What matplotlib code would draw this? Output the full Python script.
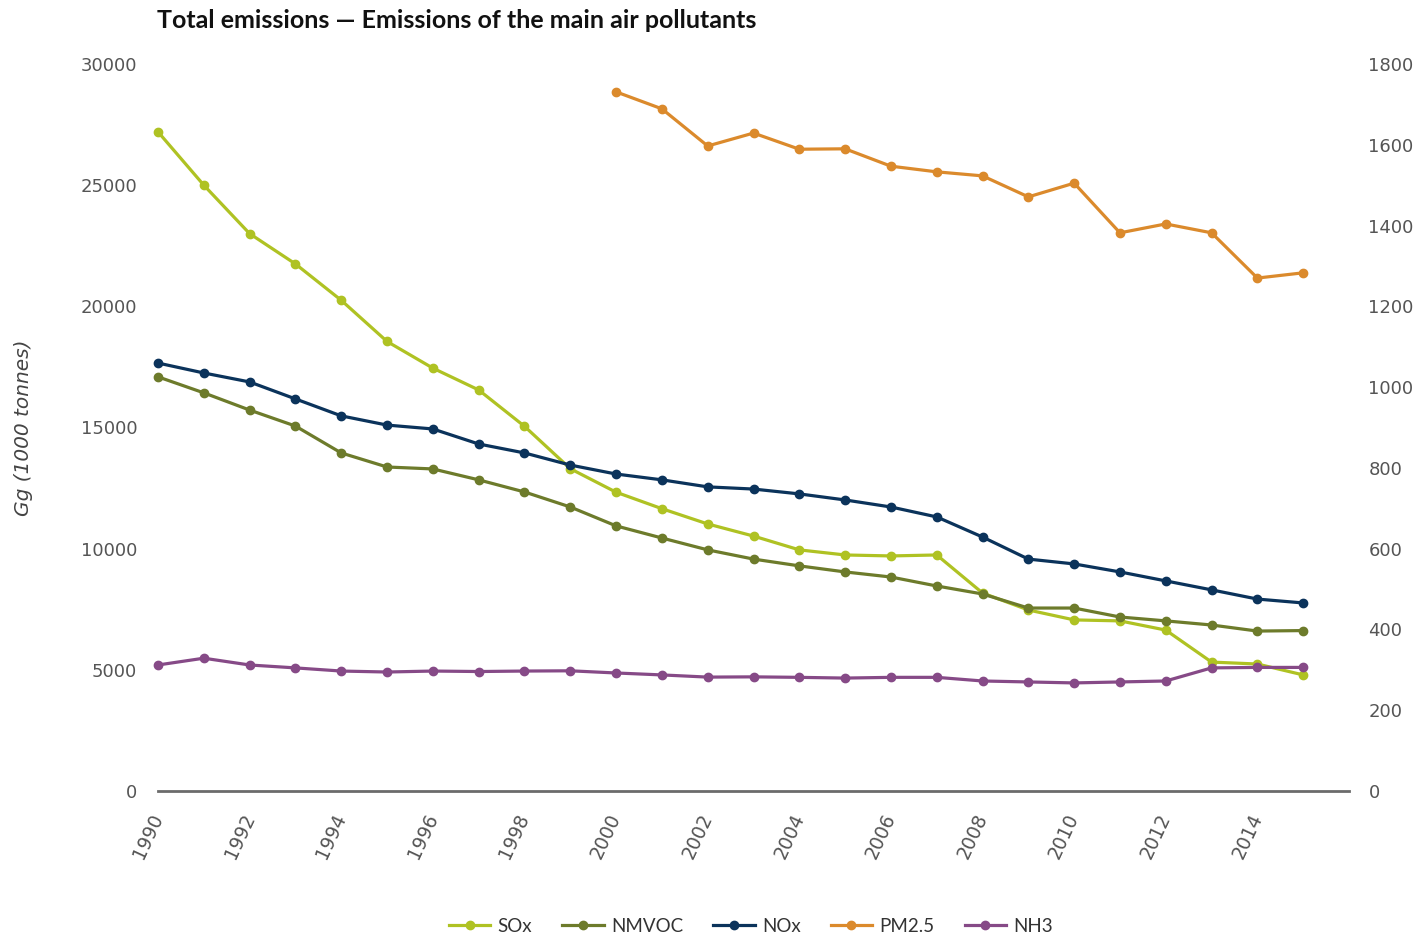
import matplotlib
matplotlib.use("Agg")
import matplotlib.pyplot as plt

plt.rcParams["font.family"] = ["DejaVu Sans"]

# Emissions in Gg (1000 tonnes); PM2.5 is on the right axis
years = list(range(1990, 2016))
pm_years = list(range(2000, 2016))

sox = [27200, 25000, 23000, 21750, 20250, 18550, 17450, 16550, 15050, 13300,
       12330, 11650, 11020, 10520, 9950, 9740, 9700, 9740, 8170, 7470,
       7060, 7020, 6640, 5320, 5240, 4790]
nmvoc = [17090, 16430, 15720, 15060, 13950, 13370, 13290, 12840, 12340, 11720,
         10940, 10440, 9950, 9570, 9290, 9040, 8830, 8460, 8130, 7550,
         7550, 7180, 7020, 6850, 6600, 6620]
nox = [17660, 17250, 16880, 16180, 15480, 15100, 14940, 14320, 13950, 13450,
       13080, 12840, 12550, 12460, 12260, 12010, 11720, 11310, 10480, 9570,
       9370, 9040, 8670, 8300, 7920, 7760]
nh3 = [5200, 5480, 5200, 5080, 4950, 4910, 4950, 4930, 4950, 4960,
       4870, 4790, 4700, 4710, 4690, 4660, 4690, 4690, 4540, 4500,
       4460, 4500, 4540, 5080, 5100, 5100]
pm25 = [1731, 1689, 1597, 1629, 1589, 1590, 1547, 1533, 1523, 1471,
        1505, 1382, 1404, 1382, 1270, 1283]

colors = {"SOx": "#afc223", "NMVOC": "#6d7b2b", "NOx": "#0b335b",
          "PM2.5": "#db8a2c", "NH3": "#864a87"}

gray = "#555555"

fig = plt.figure(figsize=(14.19, 9.36), dpi=100)
ax = fig.add_axes([158 / 1419, 1 - 791 / 936, (1349 - 158) / 1419, (791 - 64) / 936])
ax2 = ax.twinx()

style = dict(marker="o", markersize=6, linewidth=2.3, clip_on=False)
lines = []
lines += ax.plot(years, sox, color=colors["SOx"], label="SOx", **style)
lines += ax.plot(years, nmvoc, color=colors["NMVOC"], label="NMVOC", **style)
lines += ax.plot(years, nox, color=colors["NOx"], label="NOx", **style)
lines += ax2.plot(pm_years, pm25, color=colors["PM2.5"], label="PM2.5", **style)
lines += ax.plot(years, nh3, color=colors["NH3"], label="NH3", **style)

ax.set_xlim(1990, 2016)
ax.set_ylim(0, 30000)
ax2.set_ylim(0, 1800)
ax.set_yticks(range(0, 30001, 5000))
ax2.set_yticks(range(0, 1801, 200))
ax.set_xticks(range(1990, 2015, 2))

for a in (ax, ax2):
    for s in a.spines.values():
        s.set_visible(False)
ax.spines["bottom"].set_visible(True)
ax.spines["bottom"].set_color("#6b6b6b")
ax.spines["bottom"].set_linewidth(2)

ax.tick_params(axis="y", length=0, pad=15, labelsize=13, labelcolor=gray)
ax2.tick_params(axis="y", length=0, pad=14, labelsize=13, labelcolor=gray)
ax.tick_params(axis="x", length=0, pad=17, labelsize=13.5, labelcolor=gray)
for lbl in ax.get_xticklabels():
    lbl.set_rotation(65)
    lbl.set_ha("right")
    lbl.set_va("center")
    lbl.set_rotation_mode("anchor")
for lbl in ax.get_xticklabels() + ax.get_yticklabels() + ax2.get_yticklabels():
    lbl.set_fontfamily("DejaVu Sans")

ax.set_ylabel("Gg (1000 tonnes)", fontsize=14.5, style="italic", color="#444444",
              fontfamily="DejaVu Sans")
ax.yaxis.set_label_coords(-(158 - 33) / 1191, 0.5)

fig.text(157 / 1419, 1 - 20 / 936, "Total emissions \u2014 Emissions of the main air pollutants",
         fontsize=18, fontweight="bold", fontfamily="Lato", va="center", ha="left", color="#111111")

fig.legend(handles=lines, loc="center", bbox_to_anchor=(751 / 1419, 1 - 926 / 936), ncol=5,
           frameon=False, handlelength=2.2, columnspacing=1.6, handletextpad=0.4,
           prop={"family": "Lato", "size": 13.5}, labelcolor="#333333")

fig.savefig("out.png", dpi=100)
